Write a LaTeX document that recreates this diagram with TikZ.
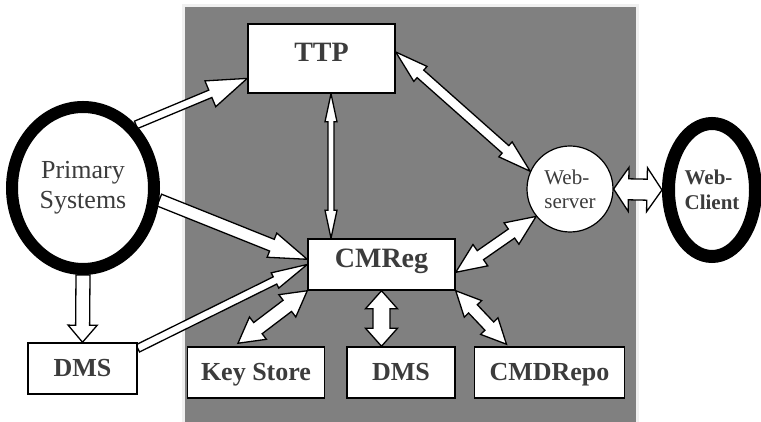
\documentclass[tikz,border=0pt]{standalone}
\usepackage{fontspec}
\setmainfont{Liberation Serif}
\usetikzlibrary{calc,positioning,shapes.geometric}
\definecolor{slab}{HTML}{808080}
\definecolor{ink}{HTML}{3C3C3C}
\pgfdeclarelayer{back}
\pgfsetlayers{back,main}

% block arrows: tail, tip, shaft half width, head half width, head length
\newcommand\onearrow[5]{%
  \coordinate (ba-a) at (#1);
  \coordinate (ba-b) at (#2);
  \coordinate (ba-c) at ($(ba-b)!#5pt!(ba-a)$);
  \filldraw[fatarrow]
    ($(ba-a)!#3pt!90:(ba-b)$) -- ($(ba-c)!#3pt!90:(ba-b)$) -- ($(ba-c)!#4pt!90:(ba-b)$)
    -- (ba-b) -- ($(ba-c)!#4pt!-90:(ba-b)$) -- ($(ba-c)!#3pt!-90:(ba-b)$)
    -- ($(ba-a)!#3pt!-90:(ba-b)$) -- cycle;}
\newcommand\twoarrow[5]{%
  \coordinate (ba-a) at (#1);
  \coordinate (ba-b) at (#2);
  \coordinate (ba-c) at ($(ba-a)!#5pt!(ba-b)$);
  \coordinate (ba-d) at ($(ba-b)!#5pt!(ba-a)$);
  \filldraw[fatarrow]
    (ba-a) -- ($(ba-c)!#4pt!90:(ba-b)$) -- ($(ba-c)!#3pt!90:(ba-b)$)
    -- ($(ba-d)!#3pt!90:(ba-b)$) -- ($(ba-d)!#4pt!90:(ba-b)$) -- (ba-b)
    -- ($(ba-d)!#4pt!-90:(ba-b)$) -- ($(ba-d)!#3pt!-90:(ba-b)$)
    -- ($(ba-c)!#3pt!-90:(ba-b)$) -- ($(ba-c)!#4pt!-90:(ba-b)$) -- cycle;}

\begin{document}
\begin{tikzpicture}[
  x=1pt, y=1pt,
  node distance=20pt,
  fatarrow/.style={fill=white, draw=black, line width=1.3pt, line join=miter},
  box/.style={draw, fill=white, line width=1.5pt, inner sep=0pt, minimum height=51pt,
    text=ink, font=\bfseries\fontsize{26}{28}\selectfont, text height=17pt, text depth=0pt},
  upper/.style={box, font=\bfseries\fontsize{28}{30}\selectfont, text height=20pt, text depth=13pt},
  ring/.style={ellipse, draw, fill=white, inner sep=0pt, text=ink},
  server/.style={circle, draw, fill=white, line width=1.2pt, inner sep=0pt, minimum size=86pt,
    text=ink, align=left, font=\fontsize{21}{24}\selectfont}
]
\useasboundingbox (0,0) rectangle (761,422);

\node[upper, minimum width=147pt, minimum height=69pt] (ttp) at (321.5,363.5) {TTP};
\node[upper, minimum width=147pt] (cmreg) at (381.5,157.5) {CMReg};
\node[box, minimum width=108pt] (dms) at (401,49.5) {DMS};
\node[box, minimum width=137pt, left=21pt of dms] (keystore) {Key Store};
\node[box, minimum width=150pt, right=18pt of dms] (repo) {CMDRepo};
\node[box, minimum width=109pt] (dmsleft) at (82.5,53.5) {DMS};
\node[ring, line width=12pt, minimum width=142pt, minimum height=162pt, align=center,
  font=\fontsize{26}{30}\selectfont] (prim) at (83,234) {Primary\\Systems};
\node[server] (web) at (570,233) {Web-\\server};
\node[ring, line width=13pt, minimum width=87pt, minimum height=133pt, align=left,
  font=\bfseries\fontsize{21}{25}\selectfont] (client) at (712,232) {Web-\\Client};

\begin{pgfonlayer}{back}
\filldraw[fill=slab, draw=black!6, line width=3pt] (183,-5) rectangle (637,416);
\onearrow{prim.50}{ttp.195}{4}{14}{40}
\onearrow{prim.-9}{cmreg.176}{6.3}{13}{38}
\onearrow{prim.south}{dmsleft.north}{7}{14.5}{17}
\onearrow{dmsleft.20}{cmreg.west}{4}{8.5}{36}
\twoarrow{$(ttp.south)+(9.5,0)$}{$(cmreg.north)+(-50.5,0)$}{3}{6}{28}
\twoarrow{ttp.5}{web.156}{5}{10}{33}
\twoarrow{web.219}{cmreg.-6}{5.5}{13}{30}
\twoarrow{web.east}{client.west}{10.5}{22}{15}
\twoarrow{cmreg.south west}{$(keystore.north)+(-18,3)$}{7}{14}{25}
\twoarrow{cmreg.south}{cmreg.south |- dms.north}{8.5}{16}{18}
\twoarrow{cmreg.south east}{$(repo.north)+(-43,2)$}{6}{12}{25}
\end{pgfonlayer}
\end{tikzpicture}
\end{document}
